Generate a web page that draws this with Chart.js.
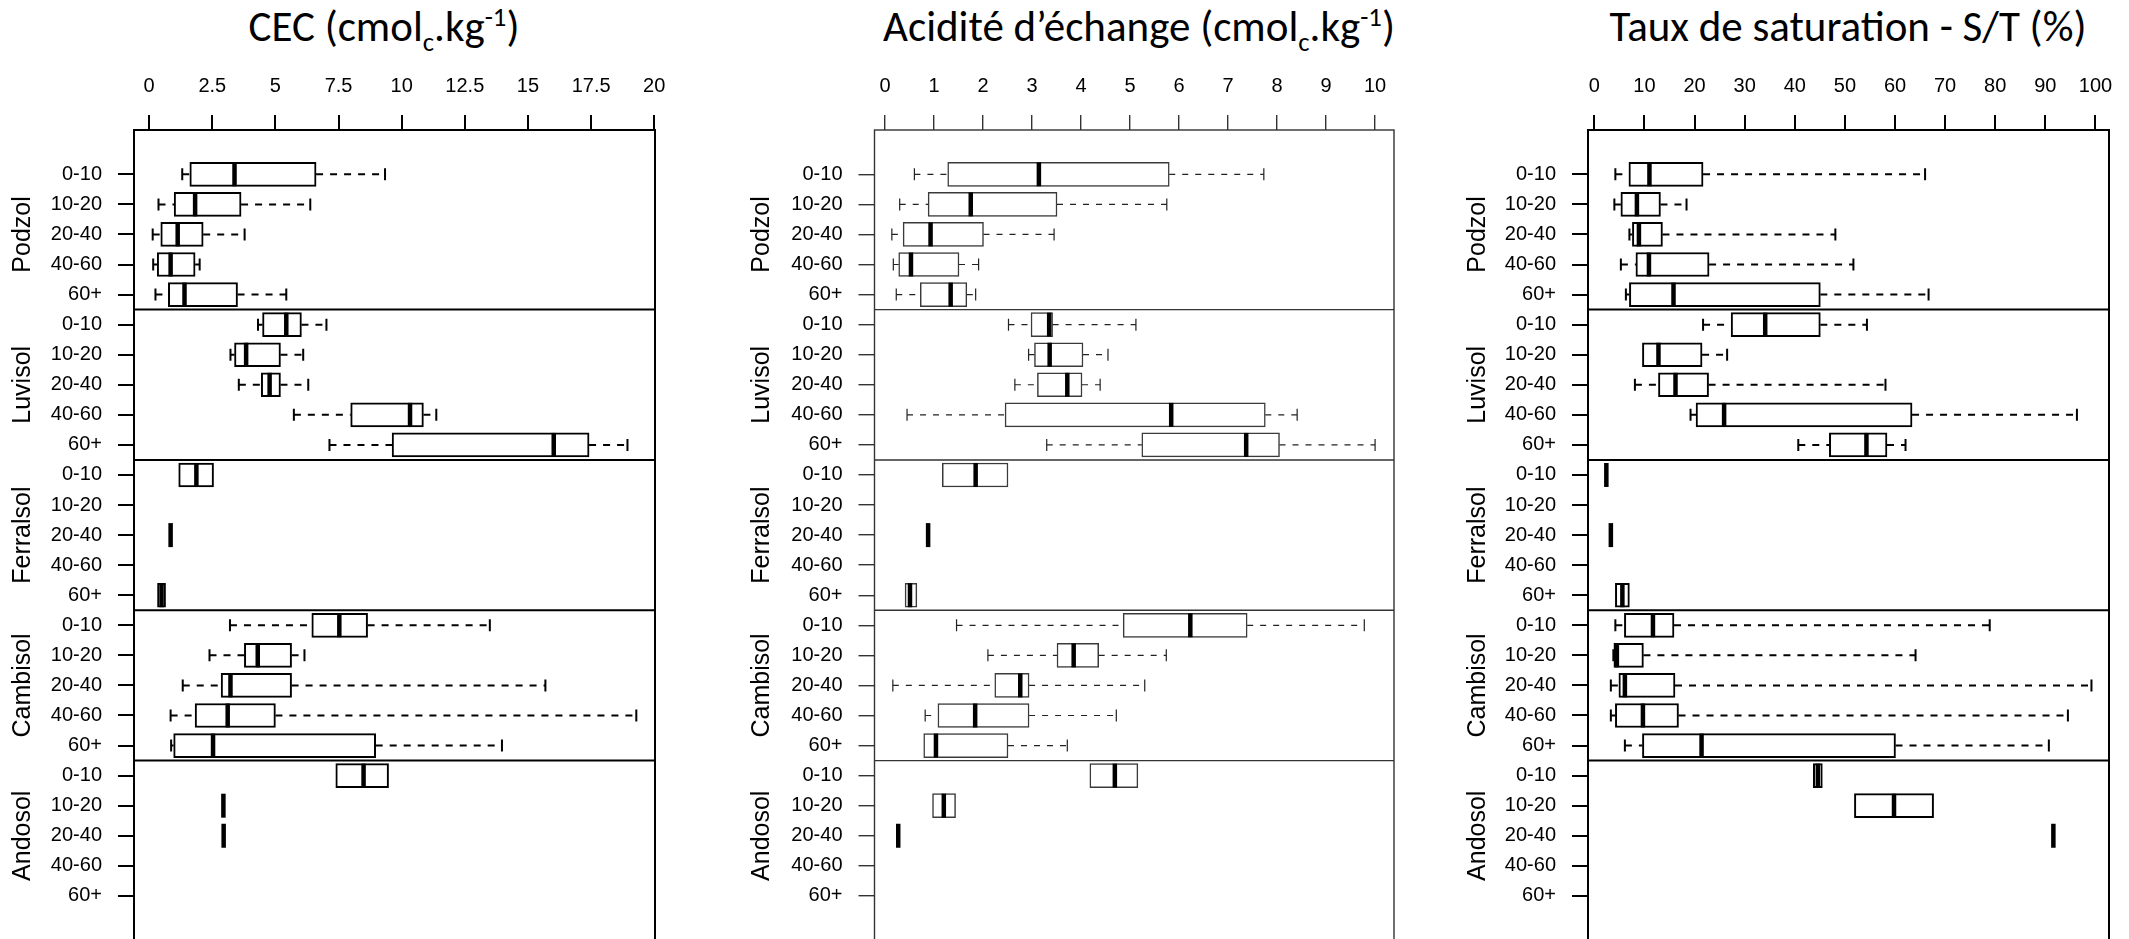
<!DOCTYPE html>
<html>
<head>
<meta charset="utf-8">
<script src="https://cdn.jsdelivr.net/npm/chart.js@4.4.0/dist/chart.umd.min.js"></script>
<style>
  body { margin: 0; background: #fff; width: 2129px; height: 939px; overflow: hidden; position: relative; }
  canvas { position: absolute; top: 0; }
  .title { position: absolute; top: 5px; font-family: Carlito, Lato, sans-serif; font-size: 43px; line-height: 1; white-space: nowrap; color: #000; transform: translateX(-50%); }
  .title sub, .title sup { font-size: 0.62em; line-height: 0; }
</style>
</head>
<body>
<div class="title" style="left:384px">CEC (cmol<sub>c</sub>.kg<sup>-1</sup>)</div>
<div class="title" style="left:1139px">Acidité d’échange (cmol<sub>c</sub>.kg<sup>-1</sup>)</div>
<div class="title" style="left:1848px">Taux de saturation - S/T (%)</div>
<canvas id="cec" width="672" height="950" style="left:0px"></canvas>
<canvas id="acid" width="730" height="950" style="left:680px"></canvas>
<canvas id="sat" width="709" height="950" style="left:1420px"></canvas>
<script>
// Categories
const soils = ['Podzol', 'Luvisol', 'Ferralsol', 'Cambisol', 'Andosol'];
const depths = ['0-10', '10-20', '20-40', '40-60', '60+'];

// Tick labels
const cecTicks = [0, 2.5, 5, 7.5, 10, 12.5, 15, 17.5, 20];
const acidTicks = [0, 1, 2, 3, 4, 5, 6, 7, 8, 9, 10];
const satTicks = [0, 10, 20, 30, 40, 50, 60, 70, 80, 90, 100];

// CEC (cmolc/kg) - whisker low, Q1, median, Q3, whisker high (Podzol..Andosol x depths)
const cecLow  = [1.31, 0.37, 0.14, 0.16, 0.25,  4.31, 3.22, 3.55, 5.73, 7.14,  1.17, null, 0.85, null, 0.33,  3.20, 2.39, 1.33, 0.85, 0.87,  7.39, 2.94, 2.95, null, null];
const cecQ1   = [1.61, 0.99, 0.46, 0.32, 0.76,  4.49, 3.38, 4.44, 7.98, 9.62,  1.17, null, 0.85, null, 0.33,  6.44, 3.77, 2.85, 1.82, 0.97,  7.39, 2.94, 2.95, null, null];
const cecMed  = [3.38, 1.82, 1.13, 0.85, 1.40,  5.43, 3.84, 4.77, 10.33, 16.02, 1.87, null, 0.85, null, 0.49,  7.53, 4.30, 3.22, 3.11, 2.53,  8.49, 2.94, 2.95, null, null];
const cecQ3   = [6.61, 3.64, 2.14, 1.82, 3.50,  6.03, 5.20, 5.20, 10.86, 17.42, 2.55, null, 0.85, null, 0.65,  8.65, 5.64, 5.64, 5.00, 8.97,  9.48, 2.94, 2.95, null, null];
const cecHigh = [9.34, 6.38, 3.78, 2.00, 5.43,  7.02, 6.10, 6.30, 11.37, 18.94, 2.55, null, 0.85, null, 0.65,  13.49, 6.15, 15.69, 19.29, 13.97,  9.48, 2.94, 2.95, null, null];

// Acidite d'echange (cmolc/kg)
const acidLow  = [0.60, 0.30, 0.14, 0.17, 0.23,  2.52, 2.93, 2.65, 0.45, 3.30,  1.17, null, 0.88, null, 0.41,  1.46, 2.10, 0.16, 0.82, 0.79,  4.18, 0.97, 0.27, null, null];
const acidQ1   = [1.28, 0.88, 0.37, 0.28, 0.72,  2.98, 3.05, 3.11, 2.45, 5.24,  1.17, null, 0.88, null, 0.41,  4.86, 3.51, 2.24, 1.08, 0.79,  4.18, 0.97, 0.27, null, null];
const acidMed  = [3.14, 1.75, 0.93, 0.53, 1.34,  3.35, 3.36, 3.72, 5.84, 7.37,  1.85, null, 0.88, null, 0.51,  6.23, 3.85, 2.76, 1.84, 1.04,  4.69, 1.20, 0.27, null, null];
const acidQ3   = [5.80, 3.51, 2.01, 1.51, 1.67,  3.42, 4.04, 4.02, 7.76, 8.05,  2.51, null, 0.88, null, 0.65,  7.39, 4.36, 2.94, 2.94, 2.51,  5.16, 1.44, 0.27, null, null];
const acidHigh = [7.73, 5.75, 3.45, 1.91, 1.85,  5.12, 4.55, 4.39, 8.41, 10.0,  2.51, null, 0.88, null, 0.65,  9.78, 5.74, 5.30, 4.72, 3.72,  5.16, 1.44, 0.27, null, null];

// Taux de saturation (%)
const satLow  = [4.2, 4.0, 7.0, 5.3, 6.3,  21.7, 9.6, 8.1, 19.2, 40.7,  2.4, null, 3.3, null, 4.2,  4.2, 3.8, 3.3, 3.3, 6.1,  43.7, 51.9, 91.6, null, null];
const satQ1   = [6.9, 5.3, 7.6, 8.3, 7.0,  27.3, 9.6, 12.8, 20.3, 46.9,  2.4, null, 3.3, null, 4.2,  6.0, 3.9, 4.9, 4.2, 9.6,  43.7, 51.9, 91.6, null, null];
const satMed  = [11.0, 8.5, 8.9, 10.9, 15.8,  34.1, 12.8, 16.2, 25.9, 54.3,  2.4, null, 3.3, null, 5.6,  11.7, 4.5, 6.1, 9.7, 21.4,  44.6, 59.8, 91.6, null, null];
const satQ3   = [21.7, 13.2, 13.6, 22.9, 45.1,  45.1, 21.5, 22.8, 63.4, 58.4,  2.4, null, 3.3, null, 7.0,  15.9, 9.8, 16.1, 16.8, 60.1,  45.5, 67.7, 91.6, null, null];
const satHigh = [66.0, 18.4, 48.1, 51.7, 66.7,  54.4, 26.5, 58.1, 96.3, 62.1,  2.4, null, 3.3, null, 7.0,  78.9, 64.1, 99.2, 94.5, 90.7,  45.5, 67.7, 91.6, null, null];

Chart.defaults.font.family = '"Liberation Sans", Arial, sans-serif';
Chart.defaults.color = '#000';

const rows = soils.flatMap((s, g) => depths.map((d, k) => g * 5 + k));

// no extra room for end labels, the frame is placed by hand
function noPadding(s) {
    s.paddingLeft = 0;
    s.paddingRight = 0;
    s.paddingTop = 0;
    s.paddingBottom = 0;
}

// whiskers, caps, medians, frame and soil labels
function boxExtras(p) {
    return {
        id: 'boxExtras',
        afterDatasetsDraw(chart) {
            const ctx = chart.ctx;
            const x = chart.scales.x, y = chart.scales.y;
            const half = p.boxH / 2, cap = p.boxH / 4;
            ctx.save();
            p.q1.forEach((q, i) => {
                if (q === null) return;
                const yc = y.getPixelForValue(i);
                const xl = x.getPixelForValue(p.lo[i]);
                const x1 = x.getPixelForValue(q);
                const x3 = x.getPixelForValue(p.q3[i]);
                const xh = x.getPixelForValue(p.hi[i]);
                const xm = x.getPixelForValue(p.med[i]);
                ctx.strokeStyle = p.whiskColor;
                ctx.lineWidth = p.whiskW;
                ctx.setLineDash(p.dash);
                ctx.beginPath();
                if (xl < x1 - 0.5) { ctx.moveTo(xl, yc); ctx.lineTo(x1, yc); }
                if (xh > x3 + 0.5) { ctx.moveTo(x3, yc); ctx.lineTo(xh, yc); }
                ctx.stroke();
                ctx.setLineDash([]);
                ctx.beginPath();
                if (xl < x1 - 0.5) { ctx.moveTo(xl, yc - cap); ctx.lineTo(xl, yc + cap); }
                if (xh > x3 + 0.5) { ctx.moveTo(xh, yc - cap); ctx.lineTo(xh, yc + cap); }
                ctx.stroke();
                ctx.strokeStyle = '#000';
                ctx.lineWidth = p.medW;
                ctx.beginPath();
                ctx.moveTo(xm, yc - half);
                ctx.lineTo(xm, yc + half);
                ctx.stroke();
            });
            ctx.restore();
        },
        afterDraw(chart) {
            const ctx = chart.ctx;
            const a = chart.chartArea, y = chart.scales.y;
            ctx.save();
            ctx.strokeStyle = p.frameColor;
            ctx.lineWidth = p.frameW;
            ctx.strokeRect(a.left, a.top, a.right - a.left, a.bottom - a.top);
            ctx.beginPath();
            [4.5, 9.5, 14.5, 19.5].forEach(v => {
                const yy = y.getPixelForValue(v);
                ctx.moveTo(a.left, yy);
                ctx.lineTo(a.right, yy);
            });
            ctx.stroke();
            ctx.fillStyle = '#000';
            ctx.font = '25px "Liberation Sans", Arial, sans-serif';
            ctx.textAlign = 'center';
            ctx.textBaseline = 'middle';
            soils.forEach((s, g) => {
                ctx.save();
                ctx.translate(p.groupX, y.getPixelForValue(g * 5 + 2));
                ctx.rotate(-Math.PI / 2);
                ctx.fillText(s, 0, 0);
                ctx.restore();
            });
            ctx.restore();
        }
    };
}

function makePanel(id, p) {
    const data = rows.filter(i => p.q1[i] !== null).map(i => ({ y: i, x: [p.q1[i], p.q3[i]] }));
    new Chart(document.getElementById(id), {
        type: 'bar',
        data: {
            datasets: [{
                data: data,
                backgroundColor: '#fff',
                borderColor: p.color,
                borderWidth: p.lineW,
                borderSkipped: false,
                barThickness: p.boxH
            }]
        },
        options: {
            indexAxis: 'y',
            responsive: false,
            animation: false,
            events: [],
            layout: { autoPadding: false, padding: { left: 0, right: p.padRight, top: 0, bottom: 0 } },
            plugins: { legend: { display: false }, tooltip: { enabled: false } },
            scales: {
                x: {
                    type: 'linear',
                    position: 'top',
                    min: p.xMin,
                    max: p.xMax,
                    afterBuildTicks: s => { s.ticks = p.ticks.map(v => ({ value: v })); },
                    afterFit: s => { s.height = 130; noPadding(s); },
                    ticks: { callback: v => String(v), font: { size: 20 }, color: '#000', padding: 17, maxRotation: 0, autoSkip: false },
                    grid: { drawOnChartArea: false, drawTicks: true, tickLength: 15, color: p.frameColor, lineWidth: p.frameW },
                    border: { display: false }
                },
                y: {
                    type: 'linear',
                    reverse: true,
                    offset: false,
                    min: -1.474,
                    max: 25.8,
                    afterBuildTicks: s => { s.ticks = rows.map(v => ({ value: v })); },
                    afterFit: s => { s.width = p.axisW; noPadding(s); },
                    ticks: { callback: v => depths[v % 5], font: { size: 20 }, color: '#000', padding: 16, autoSkip: false },
                    grid: { offset: false, drawOnChartArea: false, drawTicks: true, tickLength: 16, color: p.frameColor, lineWidth: p.frameW },
                    border: { display: false }
                }
            }
        },
        plugins: [boxExtras(p)]
    });
}

makePanel('cec', {
    lo: cecLow, q1: cecQ1, med: cecMed, q3: cecQ3, hi: cecHigh, ticks: cecTicks,
    xMin: -0.6, xMax: 20.03, axisW: 134, padRight: 17, groupX: 23,
    color: '#000', frameColor: '#000', whiskColor: '#000', lineW: 2, frameW: 2, whiskW: 2, medW: 4.5, dash: [7, 7], boxH: 24
});
makePanel('acid', {
    lo: acidLow, q1: acidQ1, med: acidMed, q3: acidQ3, hi: acidHigh, ticks: acidTicks,
    xMin: -0.214, xMax: 10.386, axisW: 194.5, padRight: 16, groupX: 82,
    color: '#3a3a3a', frameColor: '#333', whiskColor: '#222', lineW: 1.5, frameW: 1.4, whiskW: 1.2, medW: 4.5, dash: [6, 7], boxH: 24
});
makePanel('sat', {
    lo: satLow, q1: satQ1, med: satMed, q3: satQ3, hi: satHigh, ticks: satTicks,
    xMin: -1.26, xMax: 102.7, axisW: 168, padRight: 20, groupX: 58,
    color: '#000', frameColor: '#000', whiskColor: '#000', lineW: 2, frameW: 2, whiskW: 2, medW: 4.5, dash: [7, 7], boxH: 24
});
</script>
</body>
</html>
